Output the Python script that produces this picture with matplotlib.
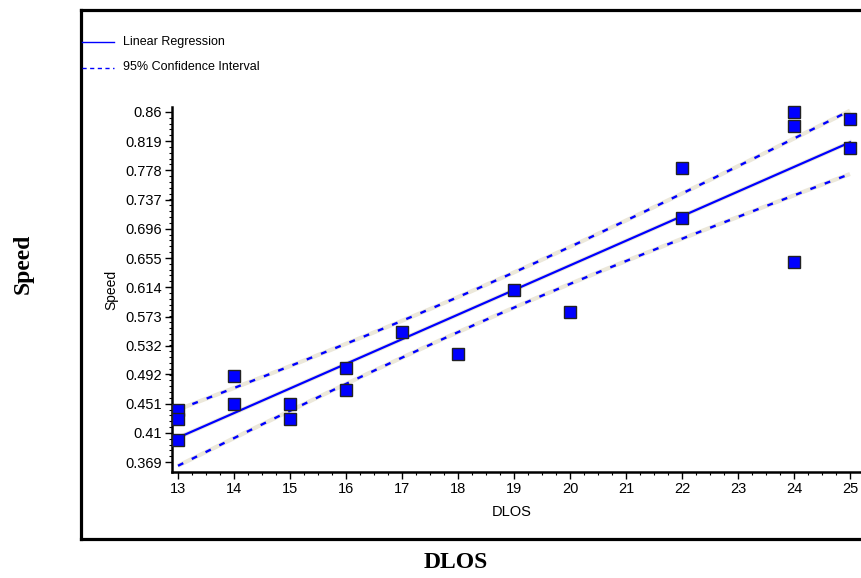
import numpy as np
import matplotlib
matplotlib.use('Agg')
import matplotlib.pyplot as plt
from matplotlib.lines import Line2D
from matplotlib.ticker import FixedLocator

# 数据
dlos = [13, 13, 13, 14, 14, 15, 15, 16, 16, 17, 18, 19, 20, 22, 22, 24, 24, 24, 25, 25]
speed = [0.442, 0.430, 0.400, 0.490, 0.450, 0.450, 0.430, 0.501, 0.470, 0.551,
         0.521, 0.610, 0.580, 0.781, 0.711, 0.860, 0.840, 0.649, 0.850, 0.810]
x_ticks = [13, 14, 15, 16, 17, 18, 19, 20, 21, 22, 23, 24, 25]
y_tick_labels = ['0.369', '0.41', '0.451', '0.492', '0.532', '0.573', '0.614',
                 '0.655', '0.696', '0.737', '0.778', '0.819', '0.86']
t_crit = 2.101  # t(0.975, n-2=18)

BLUE = '#0000ff'
HALO = '#ece8da'


def fit_line():
    x = np.array(dlos, dtype=float)
    y = np.array(speed)
    n = len(x)
    slope, intercept = np.polyfit(x, y, 1)
    resid = y - (slope * x + intercept)
    s = np.sqrt(np.sum(resid ** 2) / (n - 2))
    sxx = np.sum((x - x.mean()) ** 2)
    xs = np.linspace(min(x_ticks), max(x_ticks), 200)
    ys = slope * xs + intercept
    half = t_crit * s * np.sqrt(1.0 / n + (xs - x.mean()) ** 2 / sxx)
    return xs, ys, ys - half, ys + half


def draw_picture():
    plt.rcParams['font.family'] = ['Liberation Sans', 'DejaVu Sans']
    fig = plt.figure(figsize=(8.61, 5.78), dpi=100)
    ax = fig.add_axes([172 / 861, 1 - 472 / 578, 1 - 172 / 861, 365 / 578])

    xs, ys, lo, hi = fit_line()
    # 置信区间与回归线
    for yy in (lo, hi):
        ax.plot(xs, yy, color=HALO, lw=3.0, zorder=2, solid_capstyle='butt')
        ax.plot(xs, yy, color=BLUE, lw=1.7, ls=(0, (2.5, 4)), zorder=3)
    ax.plot(xs, ys, color=HALO, lw=3.0, zorder=2)
    ax.plot(xs, ys, color=BLUE, lw=1.6, zorder=3)
    ax.plot(dlos, speed, ls='none', marker='s', ms=8, mfc=BLUE, mec='#222222',
            mew=1.0, zorder=4, clip_on=False)

    y_ticks = [float(v) for v in y_tick_labels]
    step = (y_ticks[-1] - y_ticks[0]) / (len(y_ticks) - 1)
    ax.set_xlim(13 - 6 / 56, 25 + 11 / 56)
    ax.set_ylim(y_ticks[0] - 10 / 29.2 * step, y_ticks[-1] + 5 / 29.2 * step)
    ax.set_xticks(x_ticks)
    ax.set_xticklabels([str(v) for v in x_ticks])
    ax.set_yticks(y_ticks)
    ax.set_yticklabels(y_tick_labels)
    ax.xaxis.set_minor_locator(FixedLocator(np.arange(13, 25.01, 0.25)))
    ax.yaxis.set_minor_locator(FixedLocator(
        np.linspace(y_ticks[0], y_ticks[-1], (len(y_ticks) - 1) * 5 + 1)))
    ax.tick_params(which='major', length=5, width=1, labelsize=10.5, pad=2)
    ax.tick_params(which='minor', length=2.5, width=0.8)

    for side in ('top', 'right'):
        ax.spines[side].set_visible(False)
    for side in ('left', 'bottom'):
        ax.spines[side].set_linewidth(1.8)

    ax.set_xlabel('DLOS', fontsize=10.5)
    ax.xaxis.set_label_coords(0.4935, -0.09)
    ax.set_ylabel('Speed', fontsize=10)
    ax.yaxis.set_label_coords(-0.078, 0.5)

    # 外框
    W, H = 861.0, 578.0
    lw_frame = 2.3
    fig.add_artist(Line2D([80.5 / W, 80.5 / W], [1 - 9.5 / H, 1 - 539 / H], color='black', lw=lw_frame))
    fig.add_artist(Line2D([80.5 / W, 1.0], [1 - 9.5 / H, 1 - 9.5 / H], color='black', lw=lw_frame))
    fig.add_artist(Line2D([80.5 / W, 1.0], [1 - 539 / H, 1 - 539 / H], color='black', lw=lw_frame))

    # 图例
    fig.add_artist(Line2D([82 / W, 114 / W], [1 - 42 / H, 1 - 42 / H], color=BLUE, lw=1.0))
    fig.add_artist(Line2D([82 / W, 114 / W], [1 - 67.5 / H, 1 - 67.5 / H], color=BLUE, lw=1.0,
                          ls=(0, (3, 2.5))))
    fig.text(123 / W, 1 - 42 / H, 'Linear Regression', fontsize=9, va='center', ha='left')
    fig.text(123 / W, 1 - 67.5 / H, '95% Confidence Interval', fontsize=9, va='center', ha='left')

    # 外部标题
    fig.text(23 / W, 1 - 264 / H, 'Speed', fontsize=17, fontweight='bold', rotation=90,
             family='Liberation Serif', ha='center', va='center')
    fig.text(456 / W, 1 - 563 / H, 'DLOS', fontsize=17, fontweight='bold',
             family='Liberation Serif', ha='center', va='center')

    fig.savefig('out.png', dpi=100)


if __name__ == "__main__":
    draw_picture()
